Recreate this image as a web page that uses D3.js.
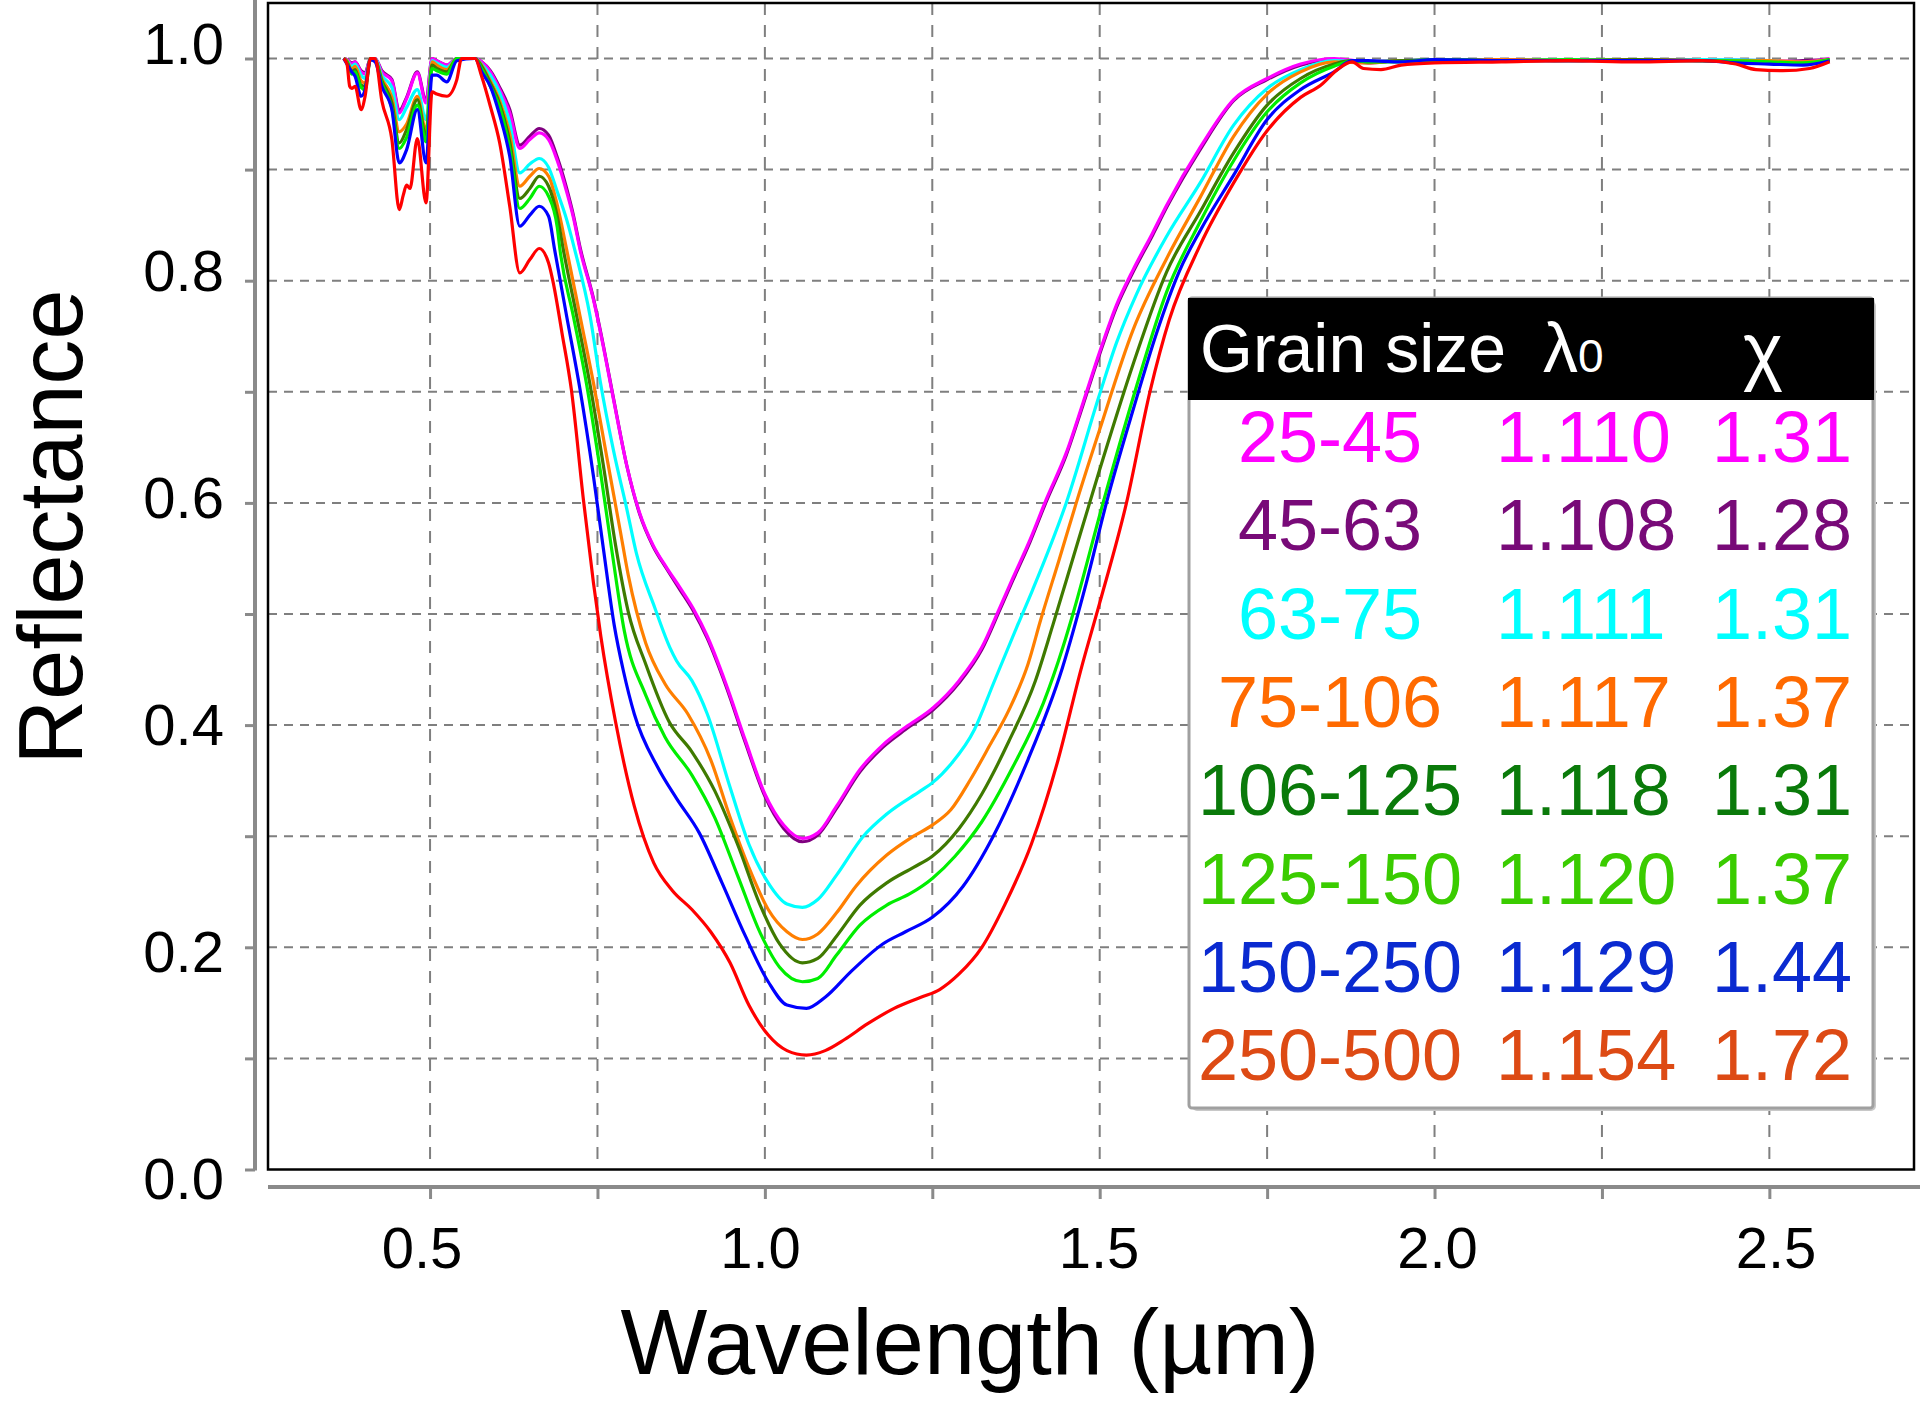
<!DOCTYPE html>
<html><head><meta charset="utf-8">
<script src="https://cdn.jsdelivr.net/npm/d3@7"></script>
<style>
body{margin:0;background:#fff}
svg{display:block}
text{font-family:"Liberation Sans",Arial,Helvetica,sans-serif}
</style>
</head><body>
<svg id="chart" width="1920" height="1401"></svg>
<script>
// ---------------- DATA ----------------
const grainSizes = ["25-45","45-63","63-75","75-106","106-125","125-150","150-250","250-500"];
const lambda0    = ["1.110","1.108","1.111","1.117","1.118","1.120","1.129","1.154"];
const chiValues  = ["1.31","1.28","1.31","1.37","1.31","1.37","1.44","1.72"];
const lineColors = ["#ff00ff","#800080","#00ffff","#ff7f00","#3f7a00","#00ee00","#0000ff","#ff0000"];
const textColors = ["#ff00ff","#780a78","#00ffff","#ff6a00","#0a7a0a","#3acc00","#0a2ad0","#dd4a14"];

const xGridValues  = [0.5,0.75,1.0,1.25,1.5,1.75,2.0,2.25,2.5];
const xLabelValues = [0.5,1.0,1.5,2.0,2.5];
const xLabelText   = ["0.5","1.0","1.5","2.0","2.5"];
const yGridValues  = [0.1,0.2,0.3,0.4,0.5,0.6,0.7,0.8,0.9,1.0];
const yTickValues  = [0,0.1,0.2,0.3,0.4,0.5,0.6,0.7,0.8,0.9,1.0];
const yLabelValues = [0,0.2,0.4,0.6,0.8,1.0];
const yLabelText   = ["0.0","0.2","0.4","0.6","0.8","1.0"];

// wavelength (µm), reflectance
const s25_45 = [[0.371,1.000],[0.376,0.999],[0.383,0.995],[0.388,0.997],[0.397,0.988],[0.403,0.986],[0.411,1.000],[0.418,1.000],[0.428,0.988],[0.443,0.980],[0.454,0.951],[0.465,0.964],[0.481,0.987],[0.494,0.960],[0.503,1.000],[0.510,0.998],[0.525,0.994],[0.540,1.000],[0.567,1.000],[0.577,0.997],[0.590,0.988],[0.604,0.972],[0.619,0.951],[0.634,0.919],[0.649,0.927],[0.663,0.933],[0.677,0.927],[0.690,0.908],[0.704,0.880],[0.714,0.857],[0.724,0.828],[0.744,0.783],[0.759,0.740],[0.774,0.693],[0.794,0.633],[0.813,0.591],[0.833,0.562],[0.853,0.542],[0.873,0.524],[0.893,0.505],[0.914,0.480],[0.942,0.437],[0.971,0.386],[1.000,0.338],[1.028,0.310],[1.056,0.298],[1.079,0.303],[1.107,0.327],[1.142,0.360],[1.176,0.382],[1.210,0.398],[1.250,0.415],[1.290,0.440],[1.324,0.470],[1.351,0.506],[1.370,0.532],[1.396,0.567],[1.420,0.603],[1.450,0.645],[1.475,0.690],[1.500,0.736],[1.525,0.778],[1.550,0.810],[1.579,0.843],[1.600,0.868],[1.650,0.920],[1.700,0.963],[1.750,0.982],[1.800,0.995],[1.850,1.000],[1.900,0.997],[1.950,0.998],[2.000,0.999],[2.100,0.998],[2.200,0.999],[2.300,0.999],[2.400,0.999],[2.500,0.998],[2.550,0.997],[2.590,1.000]];
const s45_63 = [[0.371,1.000],[0.376,0.999],[0.383,0.996],[0.388,0.997],[0.397,0.989],[0.403,0.987],[0.411,1.000],[0.418,1.000],[0.428,0.989],[0.443,0.981],[0.454,0.953],[0.465,0.965],[0.481,0.988],[0.494,0.962],[0.503,1.000],[0.510,0.998],[0.525,0.994],[0.540,1.000],[0.567,1.000],[0.577,0.997],[0.590,0.989],[0.604,0.974],[0.619,0.954],[0.634,0.922],[0.649,0.930],[0.663,0.937],[0.677,0.931],[0.690,0.911],[0.704,0.883],[0.714,0.859],[0.724,0.830],[0.744,0.784],[0.759,0.741],[0.774,0.694],[0.794,0.633],[0.813,0.590],[0.833,0.561],[0.853,0.541],[0.873,0.522],[0.893,0.503],[0.914,0.478],[0.942,0.435],[0.971,0.384],[1.000,0.336],[1.028,0.307],[1.056,0.295],[1.079,0.301],[1.107,0.325],[1.142,0.358],[1.176,0.380],[1.210,0.396],[1.250,0.413],[1.290,0.438],[1.324,0.468],[1.351,0.504],[1.370,0.530],[1.396,0.565],[1.420,0.601],[1.450,0.643],[1.475,0.688],[1.500,0.734],[1.525,0.776],[1.550,0.808],[1.579,0.841],[1.600,0.866],[1.650,0.918],[1.700,0.962],[1.750,0.981],[1.800,0.994],[1.850,0.999],[1.900,0.996],[1.950,0.998],[2.000,0.998],[2.100,0.999],[2.200,0.998],[2.300,0.999],[2.400,0.998],[2.500,0.997],[2.550,0.998],[2.590,0.999]];
const s63_75 = [[0.371,1.000],[0.376,0.998],[0.383,0.993],[0.388,0.995],[0.397,0.985],[0.403,0.982],[0.411,1.000],[0.418,1.000],[0.428,0.985],[0.443,0.974],[0.454,0.945],[0.465,0.956],[0.481,0.972],[0.494,0.945],[0.503,0.998],[0.510,0.996],[0.525,0.992],[0.540,1.000],[0.567,1.000],[0.577,0.995],[0.590,0.985],[0.604,0.969],[0.619,0.942],[0.634,0.897],[0.649,0.905],[0.663,0.910],[0.677,0.902],[0.690,0.880],[0.704,0.855],[0.716,0.828],[0.739,0.768],[0.754,0.710],[0.774,0.647],[0.794,0.594],[0.808,0.555],[0.836,0.505],[0.858,0.470],[0.868,0.458],[0.891,0.440],[0.914,0.410],[0.948,0.344],[0.976,0.293],[1.005,0.258],[1.033,0.239],[1.056,0.236],[1.079,0.243],[1.107,0.265],[1.147,0.300],[1.182,0.320],[1.233,0.341],[1.250,0.348],[1.278,0.365],[1.313,0.396],[1.341,0.437],[1.376,0.488],[1.400,0.522],[1.450,0.600],[1.500,0.698],[1.525,0.744],[1.555,0.788],[1.600,0.840],[1.650,0.888],[1.700,0.940],[1.750,0.973],[1.800,0.990],[1.850,0.998],[1.900,0.997],[1.950,0.998],[2.000,0.999],[2.100,0.998],[2.200,0.999],[2.300,0.998],[2.400,0.999],[2.500,0.998],[2.550,0.996],[2.590,0.999]];
const s75_106 = [[0.371,1.000],[0.376,0.998],[0.383,0.990],[0.388,0.993],[0.397,0.980],[0.403,0.978],[0.411,1.000],[0.418,0.999],[0.428,0.982],[0.443,0.965],[0.454,0.934],[0.465,0.941],[0.481,0.966],[0.494,0.935],[0.503,0.997],[0.510,0.994],[0.525,0.990],[0.540,1.000],[0.567,1.000],[0.577,0.994],[0.590,0.980],[0.604,0.962],[0.619,0.932],[0.634,0.885],[0.649,0.894],[0.663,0.901],[0.677,0.894],[0.690,0.868],[0.704,0.828],[0.724,0.768],[0.744,0.708],[0.764,0.641],[0.784,0.575],[0.796,0.535],[0.822,0.474],[0.851,0.437],[0.885,0.410],[0.919,0.369],[0.948,0.317],[0.976,0.272],[1.005,0.234],[1.033,0.214],[1.056,0.207],[1.079,0.212],[1.107,0.231],[1.136,0.255],[1.182,0.283],[1.222,0.300],[1.250,0.310],[1.278,0.324],[1.307,0.351],[1.336,0.382],[1.364,0.413],[1.393,0.455],[1.412,0.495],[1.440,0.550],[1.465,0.600],[1.500,0.666],[1.550,0.756],[1.600,0.820],[1.650,0.875],[1.700,0.930],[1.750,0.968],[1.800,0.988],[1.850,0.997],[1.900,0.996],[1.950,0.998],[2.000,0.998],[2.100,0.999],[2.200,0.998],[2.300,0.999],[2.400,0.998],[2.500,0.998],[2.550,0.997],[2.590,0.999]];
const s106_125 = [[0.371,1.000],[0.376,0.997],[0.383,0.988],[0.388,0.990],[0.397,0.976],[0.403,0.975],[0.411,1.000],[0.418,0.999],[0.428,0.980],[0.443,0.960],[0.454,0.924],[0.465,0.936],[0.481,0.963],[0.494,0.930],[0.503,0.994],[0.510,0.991],[0.525,0.988],[0.540,1.000],[0.567,1.000],[0.577,0.993],[0.590,0.978],[0.604,0.959],[0.619,0.925],[0.634,0.874],[0.649,0.883],[0.663,0.894],[0.677,0.885],[0.690,0.858],[0.699,0.828],[0.719,0.768],[0.739,0.706],[0.759,0.633],[0.777,0.562],[0.796,0.502],[0.822,0.455],[0.857,0.403],[0.891,0.376],[0.925,0.341],[0.959,0.293],[0.993,0.238],[1.022,0.203],[1.056,0.186],[1.079,0.190],[1.107,0.210],[1.142,0.238],[1.182,0.258],[1.222,0.272],[1.250,0.282],[1.290,0.307],[1.324,0.338],[1.364,0.385],[1.404,0.440],[1.430,0.490],[1.450,0.530],[1.500,0.630],[1.550,0.725],[1.600,0.808],[1.650,0.862],[1.700,0.915],[1.750,0.958],[1.800,0.982],[1.850,0.995],[1.875,0.998],[1.900,0.997],[1.950,0.998],[2.000,0.999],[2.100,0.998],[2.200,0.998],[2.300,0.999],[2.400,0.998],[2.500,0.996],[2.550,0.995],[2.590,0.999]];
const s125_150 = [[0.371,1.000],[0.376,0.997],[0.383,0.986],[0.388,0.988],[0.397,0.974],[0.403,0.972],[0.411,0.999],[0.418,0.998],[0.428,0.978],[0.443,0.955],[0.454,0.919],[0.465,0.929],[0.481,0.958],[0.494,0.925],[0.503,0.991],[0.510,0.989],[0.525,0.986],[0.540,1.000],[0.567,1.000],[0.577,0.991],[0.590,0.975],[0.604,0.956],[0.619,0.919],[0.634,0.865],[0.649,0.874],[0.663,0.885],[0.677,0.876],[0.690,0.848],[0.694,0.828],[0.714,0.768],[0.734,0.706],[0.754,0.630],[0.772,0.555],[0.790,0.485],[0.822,0.427],[0.851,0.389],[0.891,0.355],[0.925,0.317],[0.959,0.265],[0.993,0.213],[1.022,0.182],[1.056,0.169],[1.079,0.172],[1.107,0.193],[1.142,0.220],[1.182,0.238],[1.216,0.248],[1.250,0.262],[1.284,0.282],[1.324,0.313],[1.370,0.362],[1.416,0.420],[1.445,0.470],[1.460,0.500],[1.505,0.600],[1.555,0.705],[1.600,0.790],[1.650,0.853],[1.700,0.908],[1.750,0.952],[1.800,0.978],[1.850,0.993],[1.880,0.998],[1.900,0.997],[1.950,0.997],[2.000,0.999],[2.100,0.998],[2.200,0.999],[2.300,0.998],[2.400,0.998],[2.500,0.997],[2.550,0.996],[2.590,0.999]];
const s150_250 = [[0.371,1.000],[0.376,0.995],[0.383,0.988],[0.388,0.984],[0.397,0.966],[0.403,0.972],[0.411,0.999],[0.418,0.997],[0.428,0.975],[0.443,0.954],[0.454,0.906],[0.465,0.918],[0.481,0.954],[0.494,0.906],[0.503,0.985],[0.510,0.985],[0.525,0.979],[0.540,0.998],[0.567,1.000],[0.577,0.988],[0.590,0.975],[0.604,0.949],[0.619,0.912],[0.634,0.849],[0.649,0.859],[0.663,0.867],[0.677,0.858],[0.686,0.828],[0.704,0.768],[0.724,0.702],[0.744,0.624],[0.759,0.558],[0.775,0.490],[0.789,0.448],[0.805,0.410],[0.840,0.362],[0.868,0.334],[0.902,0.303],[0.936,0.258],[0.971,0.210],[1.005,0.169],[1.033,0.148],[1.062,0.145],[1.090,0.155],[1.130,0.179],[1.176,0.203],[1.210,0.214],[1.250,0.227],[1.296,0.255],[1.341,0.300],[1.393,0.369],[1.444,0.451],[1.480,0.528],[1.510,0.600],[1.550,0.684],[1.585,0.753],[1.620,0.810],[1.650,0.845],[1.700,0.895],[1.750,0.945],[1.800,0.972],[1.850,0.988],[1.877,0.998],[1.900,0.998],[1.950,0.997],[2.000,0.999],[2.100,0.998],[2.200,0.998],[2.300,0.998],[2.400,0.998],[2.450,0.996],[2.500,0.995],[2.550,0.994],[2.590,0.998]];
const s250_500 = [[0.371,1.000],[0.376,0.995],[0.380,0.975],[0.383,0.973],[0.388,0.975],[0.397,0.954],[0.403,0.966],[0.411,1.000],[0.418,1.000],[0.428,0.962],[0.443,0.927],[0.454,0.864],[0.460,0.877],[0.465,0.886],[0.470,0.883],[0.481,0.928],[0.494,0.870],[0.503,0.970],[0.510,0.968],[0.525,0.966],[0.540,0.981],[0.547,1.000],[0.567,1.000],[0.577,0.984],[0.590,0.957],[0.604,0.924],[0.619,0.867],[0.634,0.807],[0.649,0.819],[0.663,0.829],[0.677,0.816],[0.684,0.798],[0.697,0.753],[0.711,0.702],[0.729,0.603],[0.744,0.528],[0.755,0.480],[0.777,0.403],[0.805,0.327],[0.834,0.276],[0.862,0.251],[0.891,0.234],[0.919,0.214],[0.948,0.186],[0.976,0.148],[1.005,0.121],[1.033,0.107],[1.062,0.103],[1.090,0.107],[1.119,0.117],[1.153,0.131],[1.193,0.145],[1.233,0.155],[1.261,0.162],[1.290,0.176],[1.324,0.200],[1.358,0.238],[1.398,0.293],[1.438,0.369],[1.472,0.450],[1.500,0.510],[1.540,0.600],[1.575,0.700],[1.604,0.765],[1.650,0.832],[1.700,0.888],[1.750,0.935],[1.800,0.965],[1.830,0.976],[1.855,0.990],[1.877,0.997],[1.894,0.991],[1.920,0.990],[1.950,0.994],[2.000,0.996],[2.100,0.997],[2.200,0.998],[2.300,0.997],[2.400,0.998],[2.450,0.995],[2.480,0.990],[2.520,0.989],[2.560,0.991],[2.590,0.997]];

const seriesData = [s25_45, s45_63, s63_75, s75_106, s106_125, s125_150, s150_250, s250_500];
const drawOrder = [1,0,2,3,4,5,6,7];

// ---------------- CHART ----------------
const svg = d3.select("#chart");
const x = d3.scaleLinear().domain([0.258, 2.716]).range([268, 1914]);
const y = d3.scaleLinear().domain([0, 1]).range([1169.5, 58.5]);
const xLab = d3.scaleLinear().domain([0.5, 2.5]).range([422, 1776]);
const yLab = d3.scaleLinear().domain([0, 1]).range([1178, 43]);

const pLeft = 268, pRight = 1914, pTop = 3, pBottom = 1169.5;

// gridlines
const grid = svg.append("g");
grid.selectAll("line.v").data(xGridValues).join("line").attr("class", "v")
  .attr("x1", d => x(d)).attr("x2", d => x(d))
  .attr("y1", pTop).attr("y2", pBottom)
  .attr("stroke", "#7f7f7f").attr("stroke-width", 2).attr("stroke-dasharray", "12,10");
grid.selectAll("line.h").data(yGridValues).join("line").attr("class", "h")
  .attr("x1", pLeft).attr("x2", pRight)
  .attr("y1", d => y(d)).attr("y2", d => y(d))
  .attr("stroke", "#7f7f7f").attr("stroke-width", 2).attr("stroke-dasharray", "9,7");

// lines
const lineGen = d3.line().x(d => x(d[0])).y(d => y(d[1])).curve(d3.curveMonotoneX);
svg.append("g").selectAll("path").data(drawOrder).join("path")
  .attr("d", i => lineGen(seriesData[i]))
  .attr("fill", "none")
  .attr("stroke", i => lineColors[i])
  .attr("stroke-width", 3.2)
  .attr("stroke-linejoin", "round");

// frame
svg.append("rect").attr("x", pLeft).attr("y", pTop).attr("width", pRight - pLeft).attr("height", pBottom - pTop)
  .attr("fill", "none").attr("stroke", "#000").attr("stroke-width", 2.5);

// y axis (offset, gray)
const yAxisG = svg.append("g").attr("transform", "translate(255,0)")
  .call(d3.axisLeft(y).tickValues(yTickValues).tickSize(10).tickSizeOuter(0).tickFormat(""));
yAxisG.select(".domain").remove();
yAxisG.selectAll(".tick line").attr("stroke", "#8a8a8a").attr("stroke-width", 3);
svg.append("line").attr("x1", 255).attr("x2", 255).attr("y1", 0).attr("y2", y(0) + 1)
  .attr("stroke", "#8a8a8a").attr("stroke-width", 4);
svg.append("g").selectAll("text").data(yLabelValues).join("text")
  .attr("x", 224).attr("y", d => yLab(d) + 20.5)
  .attr("text-anchor", "end").attr("font-size", 58).attr("fill", "#000")
  .text((d, i) => yLabelText[i]);

// x axis (offset, gray)
const xAxisG = svg.append("g").attr("transform", "translate(0,1187)")
  .call(d3.axisBottom(x).tickValues(xGridValues).tickSize(12).tickSizeOuter(0).tickFormat(""));
xAxisG.select(".domain").remove();
xAxisG.selectAll(".tick line").attr("stroke", "#8a8a8a").attr("stroke-width", 3);
svg.append("line").attr("x1", pLeft).attr("x2", 1920).attr("y1", 1187).attr("y2", 1187)
  .attr("stroke", "#8a8a8a").attr("stroke-width", 4);
svg.append("g").selectAll("text").data(xLabelValues).join("text")
  .attr("x", d => xLab(d)).attr("y", 1268)
  .attr("text-anchor", "middle").attr("font-size", 58).attr("fill", "#000")
  .text((d, i) => xLabelText[i]);

// axis titles
svg.append("text").attr("x", 970).attr("y", 1374).attr("text-anchor", "middle")
  .attr("font-size", 92).attr("fill", "#000").text("Wavelength (µm)");
svg.append("text").attr("transform", "translate(82,527) rotate(-90)").attr("text-anchor", "middle")
  .attr("font-size", 90).attr("fill", "#000").text("Reflectance");

// legend
const lg = svg.append("g");
const lx0 = 1189, lx1 = 1873, ly0 = 298, ly1 = 1108, lhead = 400;
lg.append("rect").attr("x", lx0 + 3).attr("y", ly0 + 3).attr("width", lx1 - lx0).attr("height", ly1 - ly0)
  .attr("rx", 5).attr("fill", "#c8c8c8");
lg.append("rect").attr("x", lx0).attr("y", ly0).attr("width", lx1 - lx0).attr("height", ly1 - ly0)
  .attr("rx", 3).attr("fill", "#fff").attr("stroke", "#a0a0a0").attr("stroke-width", 3);
lg.append("rect").attr("x", lx0 - 1).attr("y", ly0).attr("width", lx1 - lx0 + 2).attr("height", lhead - ly0)
  .attr("fill", "#000");
lg.append("text").attr("x", 1200).attr("y", 372).attr("font-size", 68).attr("fill", "#fff").text("Grain size");
const lam = lg.append("text").attr("x", 1543).attr("y", 372).attr("font-size", 70).attr("fill", "#fff");
lam.append("tspan").text("λ");
lam.append("tspan").attr("font-size", 46).text("0");
lg.append("text").attr("x", 1743).attr("y", 376).attr("font-size", 76).attr("fill", "#fff").text("χ");

const rowY = i => 462 + 88.3 * i;
const rows = lg.selectAll("g.row").data(grainSizes).join("g").attr("class", "row");
rows.append("text").attr("x", 1330).attr("y", (d, i) => rowY(i)).attr("text-anchor", "middle")
  .attr("font-size", 72).attr("fill", (d, i) => textColors[i]).text(d => d);
rows.append("text").attr("x", 1496).attr("y", (d, i) => rowY(i))
  .attr("font-size", 72).attr("fill", (d, i) => textColors[i]).text((d, i) => lambda0[i]);
rows.append("text").attr("x", 1712).attr("y", (d, i) => rowY(i))
  .attr("font-size", 72).attr("fill", (d, i) => textColors[i]).text((d, i) => chiValues[i]);
</script>
</body></html>
